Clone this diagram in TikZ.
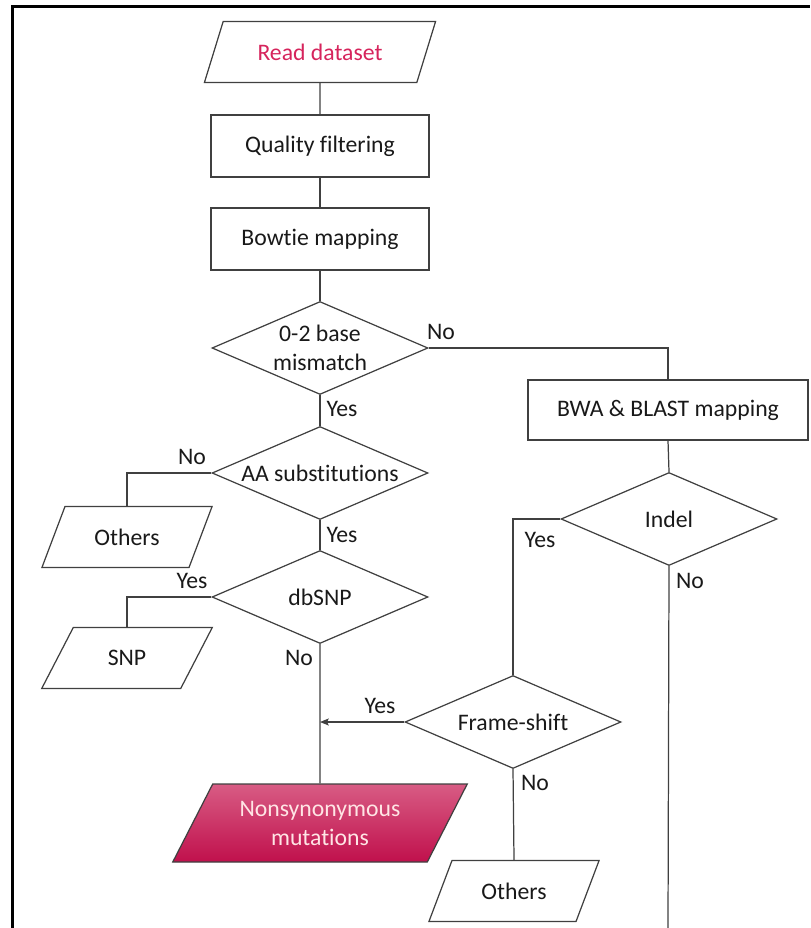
\documentclass[tikz,border=0pt]{standalone}
\usepackage{fontspec}
\setmainfont{Carlito}[Ligatures=NoCommon]
\usetikzlibrary{shapes,arrows.meta}

\definecolor{linegray}{RGB}{64,64,64}
\definecolor{readred}{RGB}{214,36,92}
\definecolor{nsTop}{RGB}{216,92,132}
\definecolor{nsBot}{RGB}{192,16,76}

\begin{document}
\begin{tikzpicture}[x=0.02cm,y=-0.02cm,
	every node/.style={font=\fontsize{13.5}{16.5}\selectfont,text=black!90},
	flow/.style={draw=linegray,line width=0.7pt},
	procbox/.style={flow,rectangle,minimum width=4.36cm,minimum height=1.24cm},
	iobox/.style={flow,trapezium,trapezium left angle=54,trapezium right angle=126,trapezium stretches=true,minimum height=1.22cm,minimum width=3.42cm,inner sep=0pt},
	decbox/.style={flow,diamond,aspect=2.32,minimum width=4.32cm,minimum height=1.86cm,inner sep=0pt,align=center},
	lbl/.style={inner sep=0pt}]
	\useasboundingbox (0,0) rectangle (810,928);
	\draw [black,line width=1.6pt] (12.5,928) -- (12.5,6.5) -- (810,6.5);

	\node [iobox,minimum width=4.66cm,text=readred] (read) at (320,52) {Read dataset};
	\node [procbox] (qual) at (320,146) {Quality filtering};
	\node [procbox] (bow) at (320,239) {Bowtie mapping};
	\node [decbox] (mis) at (320,348) {0-2 base\\mismatch};
	\node [procbox,minimum width=5.6cm,minimum height=1.2cm] (bwa) at (668,410) {BWA \& BLAST mapping};
	\node [decbox] (aa) at (320,473) {AA substitutions};
	\node [decbox] (indel) at (669,519) {Indel};
	\node [iobox] (oth1) at (127,537) {Others};
	\node [decbox] (db) at (320,597) {dbSNP};
	\node [iobox] (snp) at (127,658) {SNP};
	\node [decbox] (fs) at (513,722) {Frame-shift};
	\node [iobox,draw=black!75,minimum width=5.9cm,minimum height=1.56cm,trapezium left angle=56,trapezium right angle=124,top color=nsTop,bottom color=nsBot,text=white!90!red,align=center] (nonsyn) at (320,823) {Nonsynonymous\\mutations};
	\node [iobox] (oth2) at (514,891) {Others};

	\coordinate (tail) at (668,928);
	\coordinate (join) at (db.south |- fs.west);

	\draw [flow] (read) -- (qual);
	\draw [flow] (qual) -- (bow);
	\draw [flow] (bow) -- (mis);
	\draw [flow] (mis.east) -| (bwa.north);
	\draw [flow] (mis.south) -- (aa.north);
	\draw [flow] (bwa.south) -- (indel.north);
	\draw [flow] (aa.west) -| (oth1.north);
	\draw [flow] (aa.south) -- (db.north);
	\draw [flow] (db.west) -| (snp.north);
	\draw [flow] (db.south) -- (nonsyn.north);
	\draw [flow] (indel.west) -| (fs.north);
	\draw [flow] (indel.south) -- (tail);
	\draw [flow,-{Stealth[length=5pt,width=4pt,inset=1pt]}] (fs.west) -- (join);
	\draw [flow] (fs.south) -- (oth2.north);

	\node [lbl] (misNo) at (441,332) {No};
	\node [lbl] (misYes) at (342,409) {Yes};
	\node [lbl] (aaNo) at (192,457) {No};
	\node [lbl] (aaYes) at (342,535) {Yes};
	\node [lbl] (dbYes) at (192,581) {Yes};
	\node [lbl] (dbNo) at (299,658) {No};
	\node [lbl] (indelYes) at (540,540) {Yes};
	\node [lbl] (indelNo) at (690,581) {No};
	\node [lbl] (fsYes) at (380,706) {Yes};
	\node [lbl] (fsNo) at (535,783) {No};
\end{tikzpicture}
\end{document}
